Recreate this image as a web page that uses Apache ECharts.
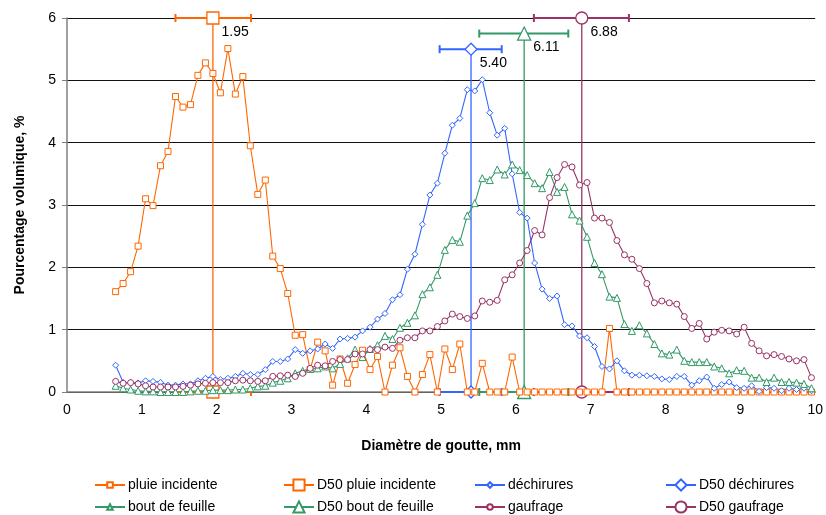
<!DOCTYPE html>
<html><head><meta charset="utf-8">
<script src="https://cdn.jsdelivr.net/npm/echarts@6/dist/echarts.min.js"></script>
<style>html,body{margin:0;padding:0;background:#fff}#c{width:826px;height:515px}</style>
</head><body><div id="c"></div>
<script>
const xValues = [0.65,0.75,0.85,0.95,1.05,1.15,1.25,1.35,1.45,1.55,1.65,1.75,1.85,1.95,2.05,2.15,2.25,2.35,2.45,2.55,2.65,2.75,2.85,2.95,3.05,3.15,3.25,3.35,3.45,3.55,3.65,3.75,3.85,3.95,4.05,4.15,4.25,4.35,4.45,4.55,4.65,4.75,4.85,4.95,5.05,5.15,5.25,5.35,5.45,5.55,5.65,5.75,5.85,5.95,6.05,6.15,6.25,6.35,6.45,6.55,6.65,6.75,6.85,6.95,7.05,7.15,7.25,7.35,7.45,7.55,7.65,7.75,7.85,7.95,8.05,8.15,8.25,8.35,8.45,8.55,8.65,8.75,8.85,8.95,9.05,9.15,9.25,9.35,9.45,9.55,9.65,9.75,9.85,9.95];

const pluieIncidente = [1.61,1.74,1.93,2.34,3.10,2.99,3.63,3.86,4.74,4.57,4.61,5.08,5.28,5.11,4.80,5.51,4.78,5.06,3.95,3.17,3.40,2.18,1.98,1.58,0.91,0.92,
  0.36,0.80,0.66,0.11,0.53,0.14,0.44,0.67,0.36,0.57,0,0.43,0.71,0.25,0,0.28,0.60,0,0.69,0.36,0.77,
  0,0,0.46,0,0,0,0.56,0,0,0,0,0,0,0,0,0,0,0,0,1.02,
  0,0,0,0,0,0,0,0,0,0,0,0,0,0,0,0,0,0,0,0,0,0,0,0,0,0,0];

const dechirures = [0.43,0.155,0.15,0.145,0.18,0.17,0.155,0.11,0.11,0.13,0.13,0.18,0.22,0.25,0.20,0.22,0.25,0.30,0.28,0.28,0.36,0.49,
  0.49,0.53,0.68,0.62,0.66,0.69,0.77,0.70,0.85,0.86,0.88,0.98,1.04,1.17,1.26,1.48,1.56,1.97,2.21,2.69,3.16,3.35,3.83,4.28,4.39,4.85,4.83,5.01,
  4.48,4.12,4.23,3.50,2.88,2.79,2.07,1.65,1.50,1.54,1.08,1.06,0.90,0.87,0.73,0.41,0.37,0.50,0.34,0.27,0.27,0.26,0.25,0.21,0.20,0.25,0.25,
  0.11,0.18,0.24,0.06,0.12,0.16,0.07,0.06,0.10,0.01,0.07,0.06,0.02,0.06,0.04,0.06,0.02];

const boutDeFeuille = [0.10,0.06,0.04,0.02,0.01,0.01,0,0,0,0,0.01,0.02,0.02,0.03,0.03,0.03,0.04,0.04,0.06,0.09,0.10,0.15,
  0.18,0.22,0.30,0.34,0.37,0.38,0.41,0.38,0.45,0.54,0.68,0.56,0.69,0.75,0.90,0.85,1.03,1.11,1.23,1.57,1.68,1.88,2.28,2.44,2.41,2.83,3.03,3.43,
  3.40,3.57,3.49,3.65,3.56,3.48,3.35,3.27,3.53,3.21,3.29,2.85,2.75,2.49,2.07,1.89,1.53,1.51,1.09,0.98,1.07,0.94,0.77,0.62,0.60,0.68,0.50,
  0.48,0.48,0.48,0.41,0.38,0.30,0.35,0.34,0.23,0.23,0.16,0.23,0.16,0.16,0.15,0.13,0.06];

const gaufrage = [0.17,0.14,0.15,0.13,0.10,0.08,0.08,0.08,0.08,0.09,0.11,0.13,0.14,0.15,0.15,0.15,0.18,0.19,0.18,0.17,0.18,0.25,
  0.26,0.27,0.25,0.30,0.38,0.43,0.42,0.49,0.52,0.52,0.61,0.61,0.68,0.68,0.72,0.70,0.83,0.87,0.87,0.98,0.98,1.05,1.14,1.25,1.21,1.18,1.22,1.46,
  1.44,1.47,1.80,1.88,2.07,2.27,2.59,2.52,3.12,3.44,3.65,3.61,3.32,3.36,2.79,2.79,2.72,2.43,2.20,2.13,1.98,1.74,1.43,1.46,1.43,1.41,1.21,
  1.02,1.10,0.85,0.96,0.99,0.98,0.93,1.04,0.78,0.66,0.58,0.60,0.57,0.53,0.50,0.52,0.23];

// D50 values with spread (low/high) and marker height
const d50Names = ['D50 pluie incidente','D50 déchirures','D50 bout de feuille','D50 gaufrage'];
const d50Values = [1.95, 5.40, 6.11, 6.88];
const d50Heights = [6, 5.5, 5.75, 6];
const d50Low = [1.45, 4.98, 5.51, 6.24];
const d50High = [2.46, 5.81, 6.70, 7.51];

const seriesNames = ['pluie incidente','déchirures','bout de feuille','gaufrage'];
const colors = ['#FF6600','#3366FF','#339966','#993366'];
const symbols = ['rect','diamond','triangle','circle'];
const seriesValues = [pluieIncidente, dechirures, boutDeFeuille, gaufrage];

const FONT = 'Liberation Sans, Arial, sans-serif';

const series = [];
// error bars
for (let k = 0; k < 4; k++) {
  series.push({
    type: 'custom', name: 'err' + k, silent: true, clip: false, z: 2,
    data: [[d50Low[k], d50High[k], d50Heights[k]], [d50Low[k], d50High[k], 0]],
    renderItem: function (params, api) {
      const a = api.coord([api.value(0), api.value(2)]);
      const b = api.coord([api.value(1), api.value(2)]);
      const st = { stroke: colors[k], lineWidth: 2 };
      return { type: 'group', children: [
        { type: 'line', shape: { x1: a[0], y1: a[1], x2: b[0], y2: b[1] }, style: st },
        { type: 'line', shape: { x1: a[0], y1: a[1] - 4, x2: a[0], y2: a[1] + 4 }, style: st },
        { type: 'line', shape: { x1: b[0], y1: b[1] - 4, x2: b[0], y2: b[1] + 4 }, style: st }
      ]};
    }
  });
}
// D50 vertical lines
for (let k = 0; k < 4; k++) {
  series.push({
    type: 'line', name: d50Names[k], z: 3,
    symbol: symbols[k], symbolSize: symbols[k] === 'triangle' ? 13 : 12,
    showAllSymbol: true,
    color: colors[k],
    lineStyle: { color: colors[k], width: 1.3 },
    itemStyle: { color: '#fff', borderColor: colors[k], borderWidth: 1.3 },
    data: [
      { value: [d50Values[k], d50Heights[k]],
        label: { show: true, position: 'right', offset: [-3, 14], color: '#000', fontSize: 14, fontFamily: FONT,
                 formatter: (p) => p.value[0].toFixed(2) } },
      { value: [d50Values[k], 0] }
    ],
    animation: false
  });
}
// data series
for (let k = 0; k < 4; k++) {
  series.push({
    type: 'line', name: seriesNames[k], z: 4,
    symbol: symbols[k], symbolSize: symbols[k] === 'triangle' ? 7 : 6,
    showAllSymbol: true,
    color: colors[k],
    lineStyle: { color: colors[k], width: 1.1 },
    itemStyle: { color: '#fff', borderColor: colors[k], borderWidth: 1 },
    data: xValues.map((x, i) => [x, seriesValues[k][i]]),
    animation: false
  });
}

// legend: 4 columns x 2 rows, one component per item
const legendLayout = [
  ['pluie incidente', 94, 484, 7], ['D50 pluie incidente', 283, 484, 14],
  ['déchirures', 474, 484, 7], ['D50 déchirures', 665, 484, 14],
  ['bout de feuille', 94, 506, 7], ['D50 bout de feuille', 283, 506, 14],
  ['gaufrage', 474, 506, 7], ['D50 gaufrage', 665, 506, 14]
];
const legends = legendLayout.map(([name, left, cy, h]) => ({
  data: [name], left: left, top: cy - 6, padding: 0,
  itemWidth: 30, itemHeight: h, itemGap: 0,
  textStyle: { fontSize: 14, color: '#000', fontFamily: FONT, padding: [0, 0, 0, -2] },
  selectedMode: false
}));

const chart = echarts.init(document.getElementById('c'), null, { renderer: 'canvas' });
chart.setOption({
  animation: false,
  backgroundColor: '#fff',
  grid: { left: 67, right: 8, top: 18, bottom: 123, containLabel: false },
  xAxis: {
    type: 'value', min: 0, max: 10, interval: 1,
    name: 'Diamètre de goutte, mm', nameLocation: 'middle', nameGap: 47,
    nameTextStyle: { fontSize: 14, fontWeight: 'bold', color: '#000', fontFamily: FONT },
    axisLine: { show: true, lineStyle: { color: '#808080', width: 1.5 } },
    axisTick: { show: false },
    axisLabel: { fontSize: 14, color: '#000', fontFamily: FONT, margin: 11 },
    splitLine: { show: false }
  },
  yAxis: {
    type: 'value', min: 0, max: 6, interval: 1,
    name: 'Pourcentage volumique, %', nameLocation: 'middle', nameGap: 40,
    nameTextStyle: { fontSize: 14, fontWeight: 'bold', color: '#000', fontFamily: FONT },
    axisLine: { show: true, lineStyle: { color: '#808080', width: 1.5 } },
    axisTick: { show: true, length: 5, lineStyle: { color: '#808080' } },
    axisLabel: { fontSize: 14, color: '#000', fontFamily: FONT, margin: 11 },
    splitLine: { show: true, lineStyle: { color: '#111', width: 1 } }
  },
  legend: legends,
  series: series
});
</script>
</body></html>
